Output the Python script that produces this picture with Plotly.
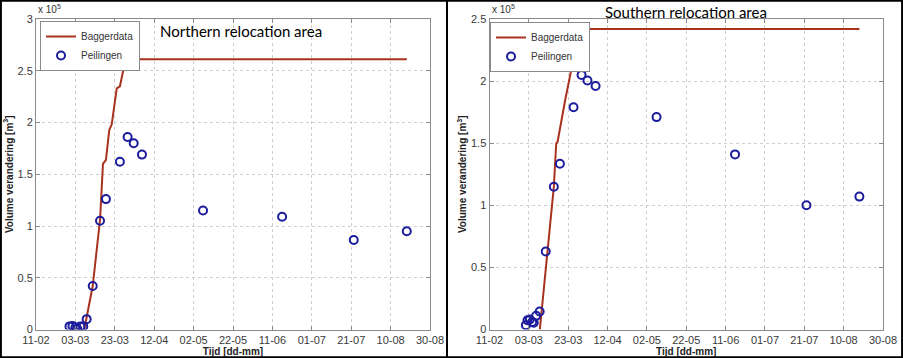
import plotly.graph_objects as go

# ---- Northern relocation area (values in 10^5 m3) ----
north_line_dates = ["2013-03-07 12:00", "2013-03-08 12:00", "2013-03-11 19:00", "2013-03-15 12:00",
                    "2013-03-17 00:00", "2013-03-18 12:00", "2013-03-20 05:00", "2013-03-21 10:00",
                    "2013-03-24 00:00", "2013-03-25 14:00", "2013-03-28 12:00", "2013-08-18 05:00"]
north_line_vals = [0.0, 0.10, 0.42, 1.06, 1.60, 1.64, 1.93, 1.98, 2.33, 2.35, 2.61, 2.61]

north_pt_dates = ["2013-02-28 00:00", "2013-03-01 12:00", "2013-03-03 00:00", "2013-03-04 00:00",
                  "2013-03-05 12:00", "2013-03-07 00:00", "2013-03-08 17:00", "2013-03-11 19:00",
                  "2013-03-15 12:00", "2013-03-18 12:00", "2013-03-25 14:00", "2013-03-29 12:00",
                  "2013-04-01 14:00", "2013-04-05 19:00", "2013-05-06 19:00", "2013-06-15 22:00",
                  "2013-07-22 07:00", "2013-08-18 05:00"]
north_pt_vals = [0.03, 0.035, 0.02, 0.005, 0.03, 0.03, 0.10, 0.42, 1.05, 1.26, 1.62, 1.86,
                 1.80, 1.69, 1.15, 1.09, 0.865, 0.95]

# ---- Southern relocation area (values in 10^5 m3) ----
south_line_dates = ["2013-03-08 14:00", "2013-03-15 17:00", "2013-03-16 22:00", "2013-03-17 14:00",
                    "2013-03-21 12:00", "2013-03-24 22:00", "2013-03-26 12:00", "2013-03-28 17:00",
                    "2013-08-18 00:00"]
south_line_vals = [0.0, 1.15, 1.50, 1.51, 1.85, 2.12, 2.18, 2.42, 2.42]

south_pt_dates = ["2013-03-01 12:00", "2013-03-02 07:00", "2013-03-03 12:00", "2013-03-04 17:00",
                  "2013-03-05 12:00", "2013-03-06 17:00", "2013-03-08 12:00", "2013-03-11 14:00",
                  "2013-03-15 17:00", "2013-03-18 19:00", "2013-03-25 17:00", "2013-03-29 19:00",
                  "2013-04-01 19:00", "2013-04-05 22:00", "2013-05-06 22:00", "2013-06-15 19:00",
                  "2013-07-22 02:00", "2013-08-18 00:00"]
south_pt_vals = [0.035, 0.075, 0.08, 0.06, 0.055, 0.11, 0.145, 0.628, 1.15, 1.335, 1.79, 2.05,
                 2.005, 1.96, 1.71, 1.41, 1.00, 1.07]

x_range = ["2013-02-11", "2013-08-30"]
north_yticks = [0, 0.5, 1, 1.5, 2, 2.5, 3]
south_yticks = [0, 0.5, 1, 1.5, 2, 2.5]

line_color = "#a8321e"
pt_color = "#1c1c9c"
W, H = 903, 358

fig = go.Figure()
fig.add_trace(go.Scatter(x=north_line_dates, y=north_line_vals, mode="lines", name="Baggerdata",
                         line=dict(color=line_color, width=2), xaxis="x", yaxis="y", legend="legend"))
fig.add_trace(go.Scatter(x=north_pt_dates, y=north_pt_vals, mode="markers", name="Peilingen",
                         marker=dict(symbol="circle-open", size=8, color=pt_color, line=dict(width=2)),
                         xaxis="x", yaxis="y", legend="legend"))
fig.add_trace(go.Scatter(x=south_line_dates, y=south_line_vals, mode="lines", name="Baggerdata",
                         line=dict(color=line_color, width=2), xaxis="x2", yaxis="y2", legend="legend2"))
fig.add_trace(go.Scatter(x=south_pt_dates, y=south_pt_vals, mode="markers", name="Peilingen",
                         marker=dict(symbol="circle-open", size=8, color=pt_color, line=dict(width=2)),
                         xaxis="x2", yaxis="y2", legend="legend2"))

tickfont = dict(family="Liberation Sans, Arial", size=11, color="#3a3a3a")
titlefont = dict(family="Liberation Sans, Arial", size=10, color="#222222")

def xaxis(domain, anchor):
    return dict(domain=domain, anchor=anchor, type="date", range=x_range, automargin=False,
                tick0="2013-02-11", dtick=20 * 86400000, tickformat="%d-%m",
                showgrid=True, gridcolor="#cfcfcf", griddash="dot", gridwidth=1,
                showline=True, linecolor="#8a8a8a", linewidth=1, mirror="allticks",
                ticks="inside", ticklen=4, tickcolor="#8a8a8a",
                tickfont=tickfont, zeroline=False,
                title=dict(text="<b>Tijd [dd-mm]</b>", font=titlefont, standoff=2))

def yaxis(domain, anchor, rng, ticks):
    return dict(domain=domain, anchor=anchor, range=rng, tickvals=ticks, automargin=False,
                ticktext=[("%g" % t) for t in ticks],
                showgrid=True, gridcolor="#cfcfcf", griddash="dot", gridwidth=1,
                showline=True, linecolor="#8a8a8a", linewidth=1, mirror="allticks",
                ticks="inside", ticklen=4, tickcolor="#8a8a8a",
                tickfont=tickfont, zeroline=False,
                title=dict(text="<b>Volume verandering [m<sup>3</sup>]</b>", font=titlefont, standoff=2))

legend_font = dict(family="Liberation Sans, Arial", size=10, color="#333333")
ydom = [1 - 329.5 / H, 1 - 19 / H]
fig.update_layout(
    width=W, height=H, margin=dict(l=0, r=0, t=0, b=0, autoexpand=False),
    paper_bgcolor="white", plot_bgcolor="white",
    xaxis=xaxis([36 / W, 430 / W], "y"),
    yaxis=yaxis(ydom, "x", [0, 3], north_yticks),
    xaxis2=xaxis([489.5 / W, 883 / W], "y2"),
    yaxis2=yaxis(ydom, "x2", [0, 2.5], south_yticks),
    legend=dict(x=40 / W, y=1 - 21 / H, xanchor="left", yanchor="top",
                bordercolor="#8a8a8a", borderwidth=1, bgcolor="white",
                font=legend_font, tracegroupgap=0, itemwidth=30),
    legend2=dict(x=490 / W, y=1 - 22 / H, xanchor="left", yanchor="top",
                 bordercolor="#8a8a8a", borderwidth=1, bgcolor="white",
                 font=legend_font, tracegroupgap=0, itemwidth=30),
    annotations=[
        dict(text="Northern relocation area", x=241 / W, y=1 - 31 / H, xref="paper", yref="paper",
             xanchor="center", yanchor="middle",
             showarrow=False, font=dict(family="Lato, Noto Sans", size=15, color="black")),
        dict(text="Southern relocation area", x=686 / W, y=1 - 12 / H, xref="paper", yref="paper",
             xanchor="center", yanchor="middle",
             showarrow=False, font=dict(family="Lato, Noto Sans", size=15, color="black")),
        dict(text="x 10<sup>5</sup>", x=36 / W, y=1 - 17 / H, xref="paper", yref="paper",
             xanchor="left", yanchor="bottom", showarrow=False,
             font=dict(family="Liberation Sans, Arial", size=10, color="#333333")),
        dict(text="x 10<sup>5</sup>", x=489.5 / W, y=1 - 17 / H, xref="paper", yref="paper",
             xanchor="left", yanchor="bottom", showarrow=False,
             font=dict(family="Liberation Sans, Arial", size=10, color="#333333")),
    ],
    shapes=[
        dict(type="rect", xref="paper", yref="paper", x0=0.001, y0=0.002, x1=0.999, y1=0.998,
             line=dict(color="black", width=2)),
        dict(type="line", xref="paper", yref="paper", x0=447 / W, x1=447 / W, y0=0, y1=1,
             line=dict(color="black", width=2)),
    ],
)

fig.write_html("out.html", config={"displayModeBar": False},
               post_script="document.body.style.margin='0';document.body.style.overflow='hidden';")
